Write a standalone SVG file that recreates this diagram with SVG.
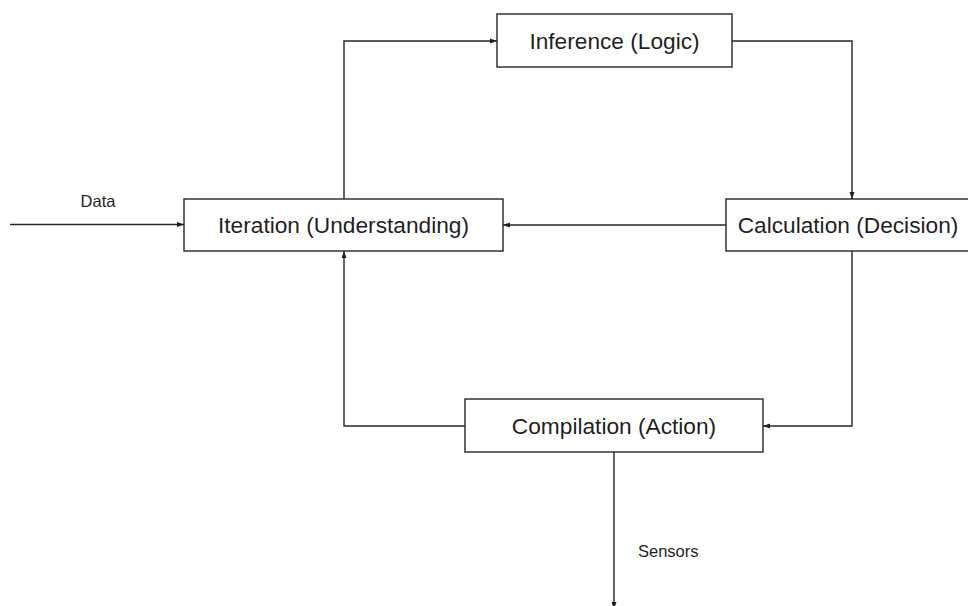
<svg xmlns="http://www.w3.org/2000/svg" width="968" height="606" viewBox="0 0 968 606">
<style>
.box{fill:#fff;stroke:#262626;stroke-width:1.4}
.lbl{font-family:"Liberation Sans",Arial,sans-serif;font-size:22.7px;fill:#1f1f1f;text-anchor:middle}
.small{font-family:"Liberation Sans",Arial,sans-serif;font-size:16.5px;fill:#1f1f1f}
.conn{fill:none;stroke:#262626;stroke-width:1.4}
</style>
<defs>
<marker id="arr" markerUnits="userSpaceOnUse" markerWidth="7" markerHeight="6" refX="7" refY="3" orient="auto">
<path d="M0,0.5 L7,3 L0,5.5 z" fill="#1f1f1f"/>
</marker>
</defs>
<rect width="968" height="606" fill="#fff"/>
<g id="connectors">
<path class="conn" d="M10,224.5 H184" marker-end="url(#arr)"/>
<path class="conn" d="M344,199 V41 H497" marker-end="url(#arr)"/>
<path class="conn" d="M732,41 H852 V199" marker-end="url(#arr)"/>
<path class="conn" d="M726,225 H503" marker-end="url(#arr)"/>
<path class="conn" d="M852,251 V426 H763" marker-end="url(#arr)"/>
<path class="conn" d="M465,426 H344 V251" marker-end="url(#arr)"/>
<path class="conn" d="M614,452 V609" marker-end="url(#arr)"/>
<text class="small" x="98" y="207" text-anchor="middle">Data</text>
<text class="small" x="638" y="557">Sensors</text>
</g>
<g id="inference">
<rect class="box" x="497" y="14" width="235" height="53"/>
<text class="lbl" x="614.5" y="49">Inference (Logic)</text>
</g>
<g id="iteration">
<rect class="box" x="184" y="199" width="319" height="52"/>
<text class="lbl" x="343.5" y="233">Iteration (Understanding)</text>
</g>
<g id="calculation">
<rect class="box" x="726" y="199" width="244" height="52"/>
<text class="lbl" x="848" y="233">Calculation (Decision)</text>
</g>
<g id="compilation">
<rect class="box" x="465" y="399" width="298" height="53"/>
<text class="lbl" x="614" y="434">Compilation (Action)</text>
</g>
</svg>
